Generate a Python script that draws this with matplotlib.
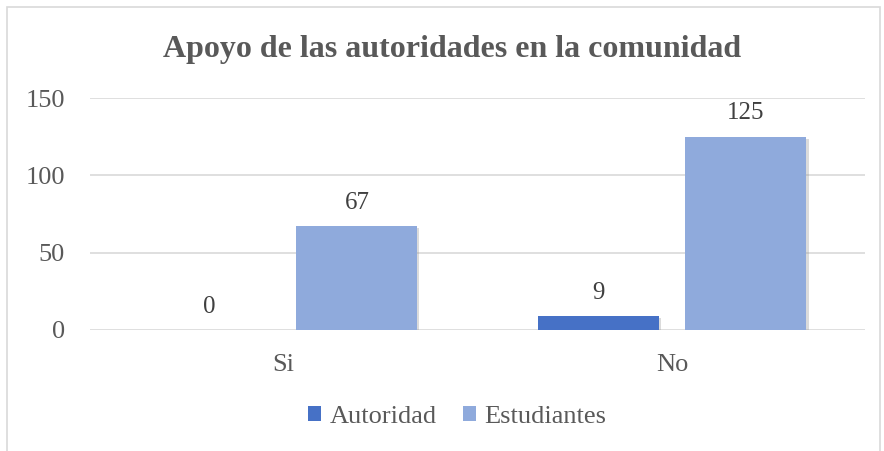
import matplotlib
matplotlib.use("Agg")
import matplotlib.pyplot as plt
import matplotlib.patheffects as pe
from matplotlib.patches import Rectangle
import numpy as np

# Data
categories = ["Si", "No"]
autoridad = [0, 9]
estudiantes = [67, 125]
series_names = ["Autoridad", "Estudiantes"]

plt.rcParams['font.family'] = ['Liberation Serif', 'DejaVu Serif']
txt = '#595959'

fig = plt.figure(figsize=(8.84, 4.51), dpi=100)
ax = fig.add_axes([90/884, 0.2683, 775/884, 0.5144])

# chart border
fig.patches.append(Rectangle((7/884, -0.05), 873/884, 1 - 7/451 + 0.05,
                             transform=fig.transFigure, fill=False,
                             edgecolor='#D9D9D9', linewidth=1.2))

x = np.arange(len(categories))
w = 0.311
off = 0.19
shadow = [pe.SimplePatchShadow(offset=(1.5, -1.5), shadow_rgbFace='#999999', alpha=0.35), pe.Normal()]

b1 = ax.bar(x - off, autoridad, w, color='#4671C6', label=series_names[0], zorder=3,
            path_effects=shadow)
b2 = ax.bar(x + off, estudiantes, w, color='#8FAADC', label=series_names[1], zorder=3,
            path_effects=shadow)

for bars, vals in ((b1, autoridad), (b2, estudiantes)):
    for r, v in zip(bars, vals):
        ax.text(r.get_x() + r.get_width() / 2, v + 8, str(v), ha='center', va='bottom',
                fontsize=18, color='#404040')

ax.set_xlim(-0.496, 1.496)
ax.set_ylim(0, 150)
ax.set_yticks([0, 50, 100, 150])
ax.set_xticks(x)
ax.set_xticklabels(categories)
ax.tick_params(axis='both', length=0, labelsize=19, colors=txt)
ax.tick_params(axis='y', pad=18)
ax.tick_params(axis='x', pad=17)
ax.grid(axis='y', color='#D9D9D9', linewidth=1.2, zorder=0)
for s in ax.spines.values():
    s.set_visible(False)

fig.text(0.511, 0.89, "Apoyo de las autoridades en la comunidad", ha='center', va='center',
         fontsize=23, fontweight='bold', color=txt)

leg = ax.legend(loc='center', bbox_to_anchor=(0.517, 0.075), bbox_transform=fig.transFigure,
                ncol=2, frameon=False, fontsize=19, labelcolor=txt, handlelength=0.5,
                handleheight=0.5, handletextpad=0.3, columnspacing=1.0)
for h in leg.legend_handles:
    h.set_path_effects([])

fig.savefig("out.png", dpi=100)
